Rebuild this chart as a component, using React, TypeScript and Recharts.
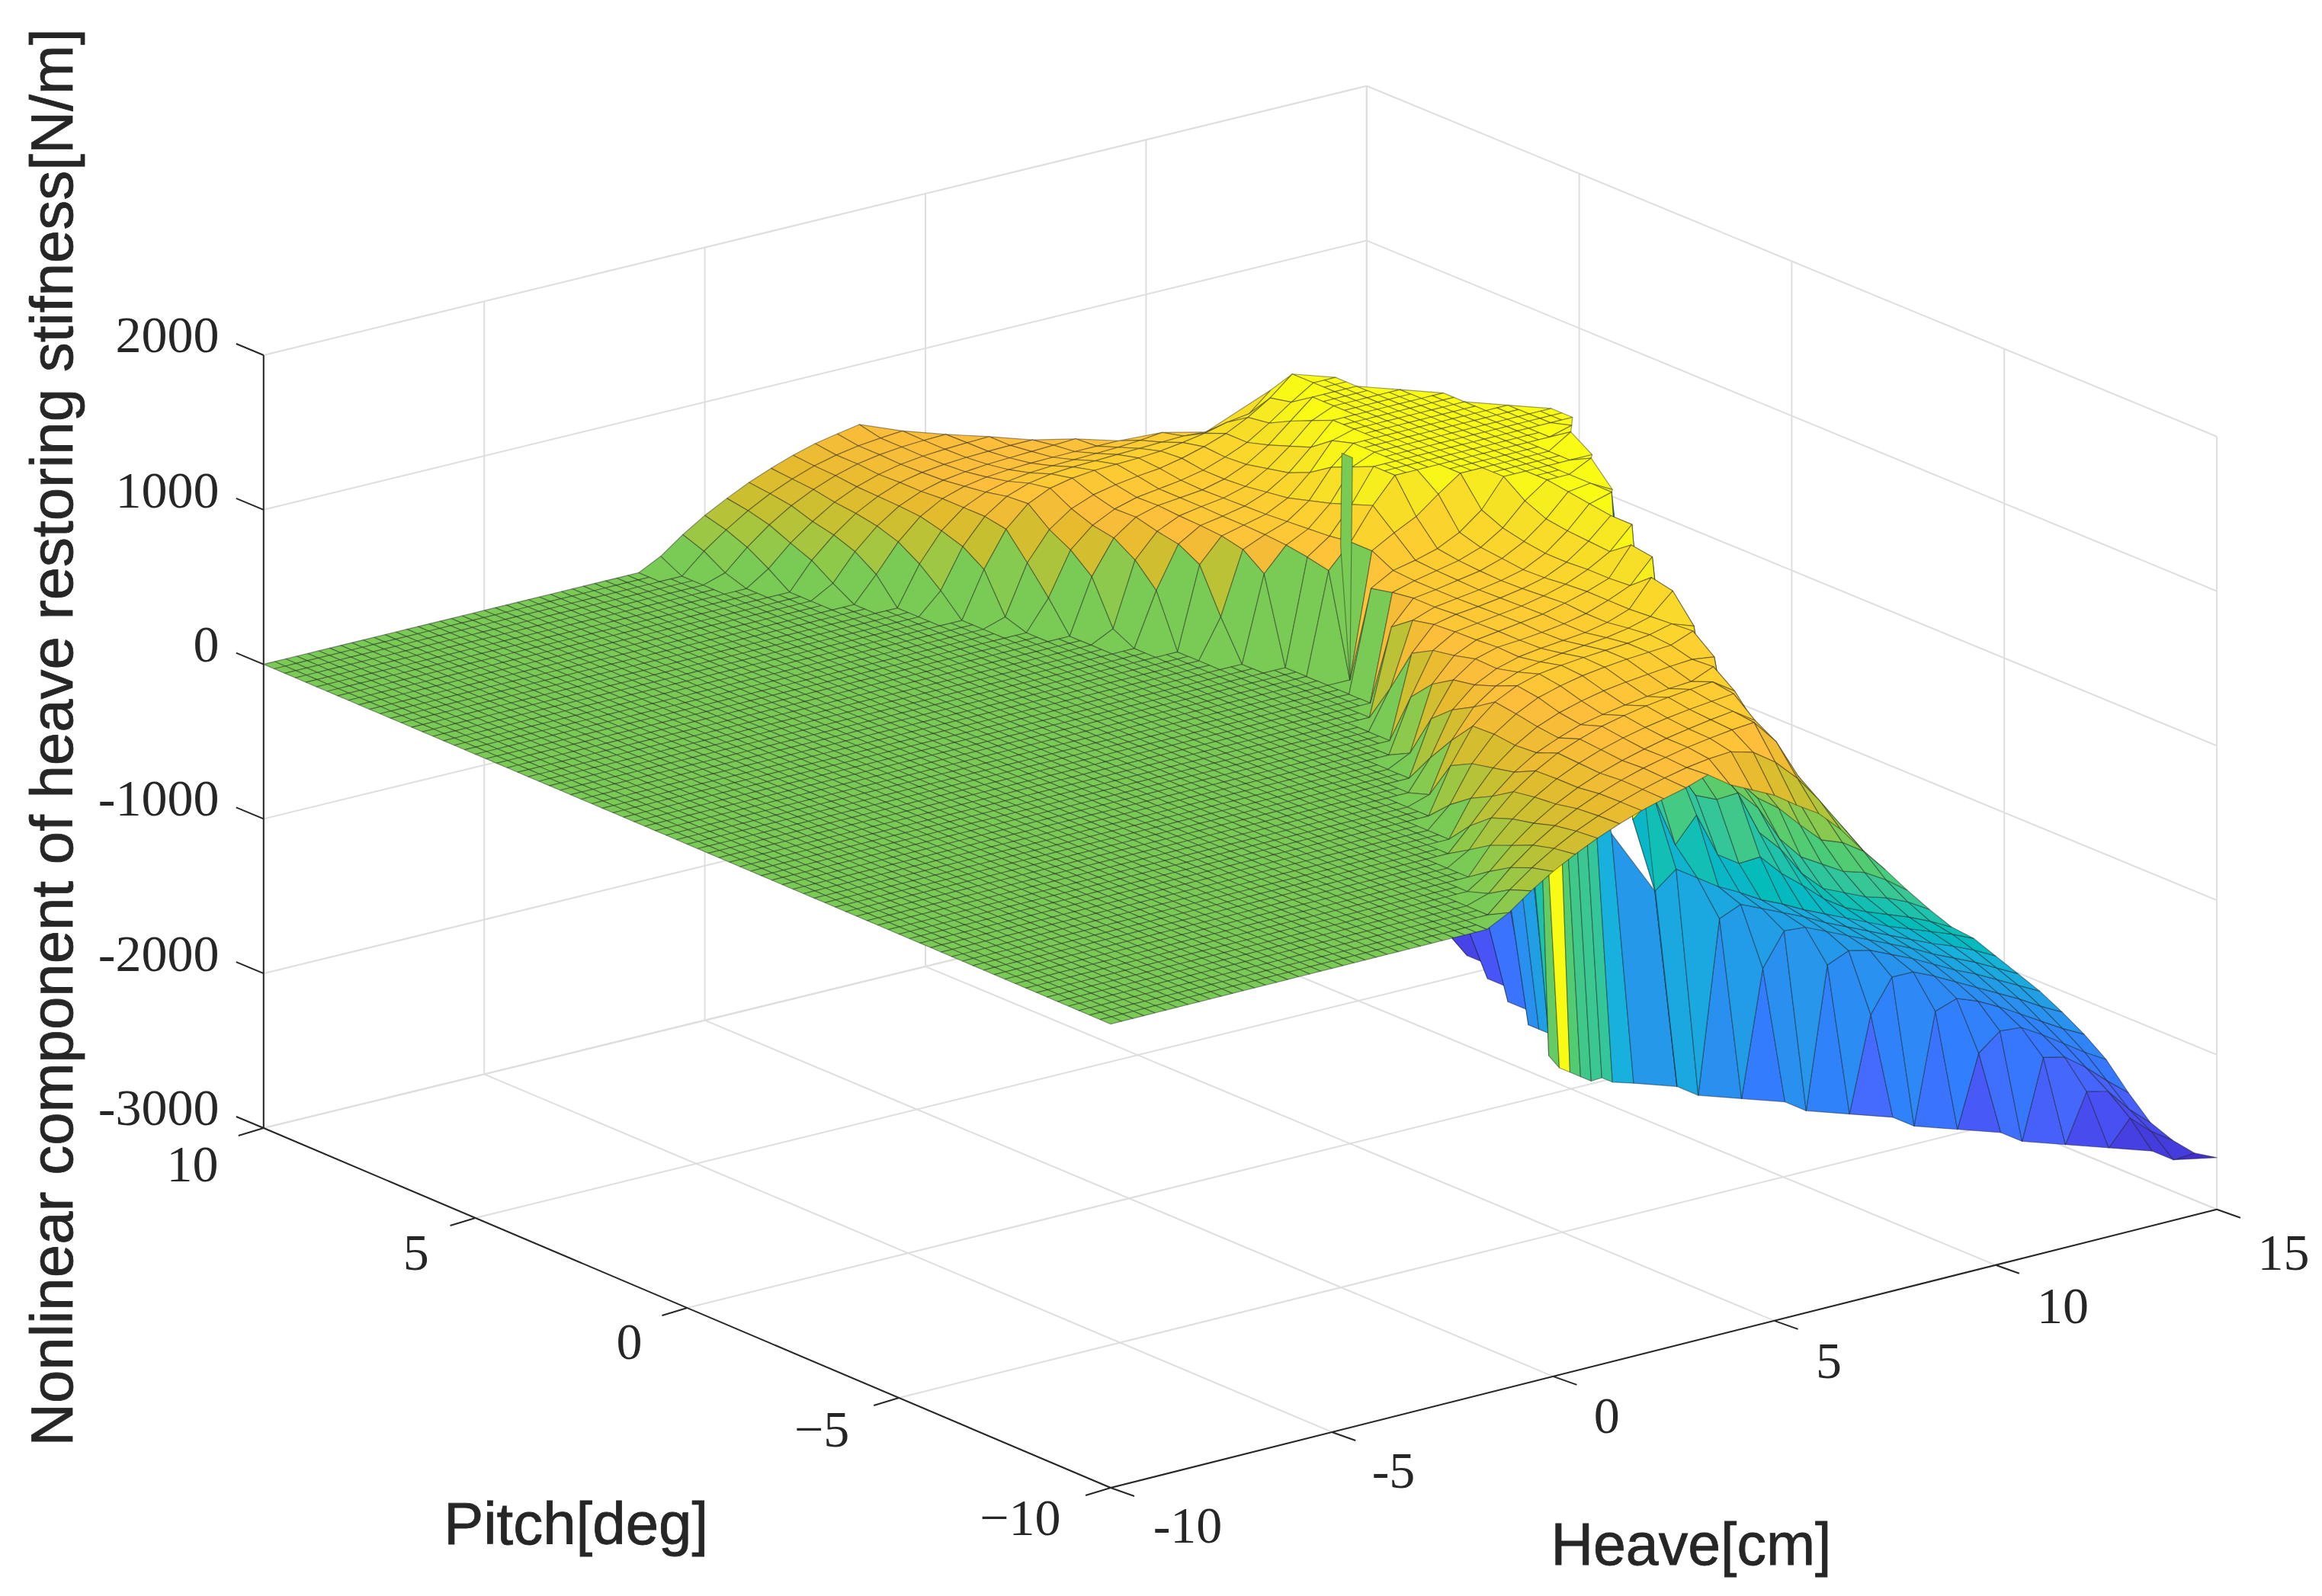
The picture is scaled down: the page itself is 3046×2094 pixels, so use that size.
import React from "react";
import { ScatterChart, Scatter, XAxis, YAxis } from "recharts";

const W = 3046;
const H = 2094;

// Axis ticks
const HEAVE_TICKS = [-10, -5, 0, 5, 10, 15];
const PITCH_TICKS = [-10, -5, 0, 5, 10];
const Z_TICKS = [-3000, -2000, -1000, 0, 1000, 2000];

// Surface grid
const HEAVE = [-10,-9.5,-9,-8.5,-8,-7.5,-7,-6.5,-6,-5.5,-5,-4.5,-4,-3.5,-3,-2.5,-2,-1.5,-1,-0.5,0,0.5,1,1.5,2,2.5,3,3.5,4,4.5,5,5.5,6,6.5,7,7.5,8,8.5,9,9.5,10,10.5,11,11.5,12,12.5,13,13.5,14,14.5,15];
const PITCH = [-10,-9.5,-9,-8.5,-8,-7.5,-7,-6.5,-6,-5.5,-5,-4.5,-4,-3.5,-3,-2.5,-2,-1.5,-1,-0.5,0,0.5,1,1.5,2,2.5,3,3.5,4,4.5,5,5.5,6,6.5,7,7.5,8,8.5,9,9.5,10];

// Heave at which each pitch column leaves the flat (z = 0) part
const COLUMN_START = [-1,-0.5,-0.5,0,0.5,0.5,1,1.5,1.5,2,2,2.5,3,3,3.5,4,4,4.5,5,5,5,5,5,4.5,4,4,3.5,3,3,2.5,2,2,1.5,1.5,1,0.5,0.5,0,-0.5,-0.5,-1];

// z read for each pitch column, in 0.5 cm heave steps from COLUMN_START; the column ends where its list ends
const Z_NEGATIVE_PITCH = [
[72,177,267,342,410,467,517,557,592,640,540,470,400,300,210,70,-100,-260,-430,-590,-740,-850,-1000,-1150,-1300,-1470,-1650,-1850,-2100,-2330,-2480,-2600,-2665],
[127,233,322,398,461,515,560,598,629,650,660,620,520,380,200,0,-200,-420,-600,-760,-880,-1020,-1170,-1320,-1490,-1670,-1860,-2080,-2300,-2480,-2700],
[45,177,286,376,450,511,562,604,638,667,689,708,720,560,300,50,-200,-430,-630,-790,-920,-1050,-1190,-1340,-1500,-1680,-1860,-2050,-2240,-2450,-2700],
[94,226,334,422,493,550,596,634,667,693,716,735,640,330,40,-240,-480,-680,-830,-960,-1090,-1220,-1360,-1520,-1690,-1860,-2040,-2300,-2700],
[170,304,409,492,557,608,649,681,706,726,742,755,520,120,-200,-490,-710,-870,-1000,-1120,-1250,-1390,-1540,-1700,-1870,-2100,-2700],
[83,254,387,486,565,620,667,700,727,746,762,775,680,60,-150,-500,-740,-900,-1030,-1150,-1270,-1410,-1560,-1720,-1950,-2700],
[145,300,420,510,570,620,650,675,695,710,720,780,20,-140,-440,-700,-900,-1060,-1180,-1300,-1430,-1580,-1760,-2150,-2700],
[230,390,500,585,640,680,710,730,745,760,770,750,-60,-300,-600,-870,-1090,-1210,-1330,-1460,-1610,-1900,-2700],
[130,360,515,610,680,720,750,770,785,795,805,860,-50,-250,-550,-850,-1120,-1240,-1360,-1490,-1700,-2700],
[290,510,630,700,740,760,775,785,795,815,850,800,-150,-350,-800,-1140,-1260,-1390,-1550,-2000,-2700],
[45,360,540,640,695,725,745,760,775,800,840,970,-200,-450,-900,-1170,-1290,-1420,-1700,-2700],
[190,465,590,660,700,720,735,750,780,830,1000,-250,-480,-900,-1180,-1320,-1500,-2700],
[350,565,665,705,715,730,750,780,830,890,1040,-300,-700,-1200,-1350,-1800,-2700],
[70,480,630,695,715,735,755,790,830,880,1060,-450,-950,-1200,-1500,-2700],
[340,605,690,710,730,750,780,820,880,960,1100,-700,-1200,-2700],
[530,680,710,725,745,770,805,870,970,1100,-900,-1400,-2700],
[250,650,700,720,740,765,800,870,980,1120,1160],
[550,700,720,745,770,815,890,1000,1140,1160,1083],
[680,720,750,780,830,920,1060,1160,1160,1230],
[650,730,760,800,870,980,1160,1160,1160,1160,1160],
];
const Z_POSITIVE_PITCH = [
[0,800,880,950,1060,1160,1160,1160,1160,1160,1250],
[650,800,1000,1160,1160,1160,1160,1160,1160,1160,1160,1200],
[680,780,950,1160,1160,1160,1160,1160,1160,1160,1160,1160,1160],
[550,700,770,900,1100,1160,1160,1160,1160,1160,1160,1160,1160,1160],
[250,650,710,760,860,1040,1160,1160,1160,1160,1160,1160,1160,1160],
[530,680,715,750,820,950,1120,1160,1160,1160,1160,1160,1160],
[340,605,690,715,745,800,890,1020,1160,1160,1160,1160,1160,1160],
[70,480,630,695,720,740,780,860,970,1100,1160,1160,1160,1160],
[350,565,665,705,720,735,770,830,920,1040,1160,1160,1160],
[190,465,590,660,700,720,740,770,820,880,970,1070,1160,1160],
[45,360,540,640,695,725,745,760,790,830,880,950,1040,1160],
[295,520,650,715,745,760,765,770,780,800,825,860,880,1000],
[135,385,545,640,690,715,725,730,735,740,745,750,740],
[250,430,545,610,645,665,675,680,685,690,700,716],
[160,335,465,545,590,615,628,635,638,640,640,640],
[80,250,380,475,535,572,592,605,612,618,624,630],
[170,300,405,480,535,565,582,592,597,600,601],
[94,225,330,420,485,530,560,578,588,595,600],
[45,175,285,375,445,500,540,565,580,588,592],
[127,230,320,395,455,505,540,565,580,592],
[72,177,267,342,410,467,517,557,585,611],
];

// The long strips that hang below the plateau, seen under the front edge
const STRIP_PITCH = [-2.5,-2,-1.5,-1.25,-1,-0.75,-0.5,-0.25,0,0.25,0.5,0.75,1,1.5,2,2.5,3,3.5,4,4.5,5];
const STRIP_TOP_HEAVE = [9.5,9,9,9,9,9,9,9,9.25,9.25,9.5,9.5,9.5,10,10,10.5,10.5,11,11,11.5,11.5];
const STRIP_TOP_Z = [-1400,-1050,-450,-400,-350,-200,1160,-100,-600,-1100,-1300,-1500,-1700,-1900,-2100,-2200,-2300,-2400,-2500,-2600,-2650];
const STRIP_BOTTOM_HEAVE = [10,9.5,9.5,9.5,9.5,9.5,9.5,9.5,9.5,9.75,10,10,10,10.5,10.5,11,11,11.5,11.5,12,12];
const STRIP_BOTTOM_Z = [-2700,-2700,-2750,-2750,-2800,-2800,-2800,-2800,-2750,-2700,-2700,-2700,-2700,-2700,-2700,-2700,-2700,-2700,-2700,-2700,-2700];

// The narrow green spike at zero pitch: heave, pitch, z of its corners
const SPIKE_HEAVE = [5, 6.5, 6.5, 5.75];
const SPIKE_PITCH = [0, 1.5, 1.75, 1];
const SPIKE_Z = [0, 1160, 1160, 700];

const PARULA = [
[62,38,168],[66,46,203],[71,66,229],[72,82,245],[70,105,253],[50,123,254],[46,135,247],[39,150,235],[28,165,224],[24,177,219],[1,187,188],[25,193,175],[55,198,150],[74,204,120],[114,204,90],[157,199,67],[197,192,49],[230,187,45],[253,190,60],[252,207,48],[246,227,36],[249,251,21],
];
function parula(t: number) {
  const c = Math.min(1, Math.max(0, t)) * (PARULA.length - 1);
  const i = Math.min(PARULA.length - 2, Math.floor(c));
  const f = c - i;
  const m = [0, 1, 2].map((k) => Math.round(PARULA[i][k] + (PARULA[i + 1][k] - PARULA[i][k]) * f));
  return `rgb(${m[0]},${m[1]},${m[2]})`;
}
const colorOf = (z: number) => parula(z >= 0 ? 0.675 + z * 0.0003 : 0.675 + z * 0.00024);

// View of the 3D box, with the slight perspective of the far corner
const project = (h: number, p: number, z: number) => {
  const a = h + 10, b = p + 10;
  const far = (a / 25) * (b / 20);
  return {
    x: 1457 + a * 58.04 - b * 55.56 - 4 * far,
    y: 1952 - a * 14.61 - b * 23.6 - (z + 3000) * 0.2028 + 12 * far,
  };
};
const depth = (h: number, p: number, z: number) => 21.6 * (h + 10) + 35.3 * (p + 10) - 0.0364 * z;

const allColumns = [...Z_NEGATIVE_PITCH, ...Z_POSITIVE_PITCH];
function zAt(i: number, j: number): number | null {
  const h = HEAVE[i];
  const start = COLUMN_START[j];
  if (h < start) return 0;
  const k = Math.round((h - start) * 2);
  const v = allColumns[j][k];
  return v === undefined ? null : v;
}
const lastIndex = (j: number) => {
  let i = HEAVE.length - 1;
  while (i > 0 && zAt(i, j) === null) i--;
  return i;
};

type Cell = { x: number; y: number; pts: number[][]; fill: string; d: number };
function makeCell(nodes: number[][], colorZ: number): Cell {
  const pr = nodes.map((n) => project(n[0], n[1], n[2]));
  const m = nodes.length;
  const x = pr.reduce((s, q) => s + q.x, 0) / m;
  const y = pr.reduce((s, q) => s + q.y, 0) / m;
  const c = nodes.reduce((s, n) => [s[0] + n[0] / m, s[1] + n[1] / m, s[2] + n[2] / m], [0, 0, 0]);
  return { x, y, pts: pr.map((q) => [q.x - x, q.y - y]), fill: colorOf(colorZ), d: depth(c[0], c[1], c[2]) };
}

const surfaceCells: Cell[] = [];
for (let i = 0; i < HEAVE.length - 1; i++) {
  for (let j = 0; j < PITCH.length - 1; j++) {
    const a = zAt(i, j), b = zAt(i + 1, j), c = zAt(i + 1, j + 1), e = zAt(i, j + 1);
    if (a === null || b === null || c === null || e === null) continue;
    const h0 = HEAVE[i], h1 = HEAVE[i + 1], p0 = PITCH[j], p1 = PITCH[j + 1];
    if (a === b && b === c && c === e) {
      // A level cell keeps its level over the finer 0.25 mesh of the reference
      const hm = (h0 + h1) / 2, pm = (p0 + p1) / 2;
      [[h0, hm, p0, pm], [hm, h1, p0, pm], [hm, h1, pm, p1], [h0, hm, pm, p1]].forEach((q) => {
        surfaceCells.push(makeCell([[q[0], q[2], a], [q[1], q[2], a], [q[1], q[3], a], [q[0], q[3], a]], a));
      });
    } else {
      surfaceCells.push(makeCell([[h0, p0, a], [h1, p0, b], [h1, p1, c], [h0, p1, e]], a));
    }
  }
}
// Where neighbouring columns end at different heaves, close the edge with triangles
for (let j = 0; j < PITCH.length - 1; j++) {
  const ea = lastIndex(j), eb = lastIndex(j + 1);
  if (ea > eb) {
    const zb = zAt(eb, j + 1) as number;
    for (let i = eb; i < ea; i++) {
      const z0 = zAt(i, j) as number, z1 = zAt(i + 1, j) as number;
      surfaceCells.push(makeCell([[HEAVE[i], PITCH[j], z0], [HEAVE[i + 1], PITCH[j], z1], [HEAVE[eb], PITCH[j + 1], zb]], z0));
    }
  } else if (eb > ea) {
    const za = zAt(ea, j) as number;
    for (let i = ea; i < eb; i++) {
      const z0 = zAt(i, j + 1) as number, z1 = zAt(i + 1, j + 1) as number;
      surfaceCells.push(makeCell([[HEAVE[ea], PITCH[j], za], [HEAVE[i + 1], PITCH[j + 1], z1], [HEAVE[i], PITCH[j + 1], z0]], za));
    }
  }
}
surfaceCells.sort((u, v) => v.d - u.d);
const stripCells: Cell[] = [];
for (let j = STRIP_PITCH.length - 2; j >= 0; j--) {
  stripCells.push(makeCell([
    [STRIP_TOP_HEAVE[j], STRIP_PITCH[j], STRIP_TOP_Z[j]],
    [STRIP_BOTTOM_HEAVE[j], STRIP_PITCH[j], STRIP_BOTTOM_Z[j]],
    [STRIP_BOTTOM_HEAVE[j + 1], STRIP_PITCH[j + 1], STRIP_BOTTOM_Z[j + 1]],
    [STRIP_TOP_HEAVE[j + 1], STRIP_PITCH[j + 1], STRIP_TOP_Z[j + 1]],
  ], STRIP_TOP_Z[j]));
}
const spikeCell = makeCell(SPIKE_HEAVE.map((h, i) => [h, SPIKE_PITCH[i], SPIKE_Z[i]]), 0);
const cells = [...stripCells, ...surfaceCells, spikeCell];

// Box lines
type Seg = { x: number; y: number; dx: number; dy: number; color: string; width: number };
function seg(a: { x: number; y: number }, b: { x: number; y: number }, color: string, width: number): Seg {
  const x = (a.x + b.x) / 2, y = (a.y + b.y) / 2;
  return { x, y, dx: (b.x - a.x) / 2, dy: (b.y - a.y) / 2, color, width };
}
const GRID = "#dedede";
const gridSegs: Seg[] = [];
HEAVE_TICKS.forEach((h) => {
  gridSegs.push(seg(project(h, 10, -3000), project(h, 10, 2000), GRID, 2));
  gridSegs.push(seg(project(h, -10, -3000), project(h, 10, -3000), GRID, 2));
});
PITCH_TICKS.forEach((p) => {
  gridSegs.push(seg(project(15, p, -3000), project(15, p, 2000), GRID, 2));
  gridSegs.push(seg(project(-10, p, -3000), project(15, p, -3000), GRID, 2));
});
Z_TICKS.forEach((z) => {
  gridSegs.push(seg(project(-10, 10, z), project(15, 10, z), GRID, 2));
  gridSegs.push(seg(project(15, 10, z), project(15, -10, z), GRID, 2));
});

const AXIS = "#262626";
const axisSegs: Seg[] = [
  seg(project(-10, 10, -3000), project(-10, 10, 2000), AXIS, 2),
  seg(project(-10, 10, -3000), project(-10, -10, -3000), AXIS, 2),
  seg(project(-10, -10, -3000), project(15, -10, -3000), AXIS, 2),
];
Z_TICKS.forEach((z) => {
  const a = project(-10, 10, z);
  axisSegs.push(seg(a, { x: a.x - 36, y: a.y - 15 }, AXIS, 2));
});
PITCH_TICKS.forEach((p) => {
  const a = project(-10, p, -3000);
  axisSegs.push(seg(a, { x: a.x - 33, y: a.y + 10 }, AXIS, 2));
});
HEAVE_TICKS.forEach((h) => {
  const a = project(h, -10, -3000);
  axisSegs.push(seg(a, { x: a.x + 31, y: a.y + 11 }, AXIS, 2));
});

// Texts (scale factor from the 1568-wide view)
const k = 3046 / 1568;
type Txt = { x: number; y: number; text: string; anchor: string; font: string; size: number; rotate?: number; heavy?: boolean };
const SERIF = "'Liberation Serif', serif";
const SANS = "'Liberation Sans', sans-serif";
const Z_LABELS = ["2000", "1000", "0", "-1000", "-2000", "-3000"];
const Z_LABEL_Y = [226, 331, 435, 539, 644, 748];
const PITCH_LABELS = ["10", "5", "0", "\u22125", "\u221210"];
const PITCH_LABEL_X = [130, 281, 425, 555, 689];
const PITCH_LABEL_Y = [786, 846, 906, 965, 1025];
const HEAVE_LABELS = ["-10", "-5", "0", "5", "10", "15"];
const HEAVE_LABEL_X = [802, 941, 1085, 1235, 1393, 1542];
const HEAVE_LABEL_Y = [1030, 993, 956, 919, 882, 846];
const texts: Txt[] = [
  ...Z_LABELS.map((t, i) => ({ x: 148 * k, y: Z_LABEL_Y[i] * k, text: t, anchor: "end", font: SERIF, size: 68 })),
  ...PITCH_LABELS.map((t, i) => ({ x: PITCH_LABEL_X[i] * k, y: PITCH_LABEL_Y[i] * k, text: t, anchor: "middle", font: SERIF, size: 68 })),
  ...HEAVE_LABELS.map((t, i) => ({ x: HEAVE_LABEL_X[i] * k, y: HEAVE_LABEL_Y[i] * k, text: t, anchor: "middle", font: SERIF, size: 68 })),
  { x: 389 * k, y: 1029 * k, text: "Pitch[deg]", anchor: "middle", font: SANS, size: 78, heavy: true },
  { x: 1142 * k, y: 1043 * k, text: "Heave[cm]", anchor: "middle", font: SANS, size: 77, heavy: true },
  { x: 35 * k, y: 498 * k, text: "Nonlinear component of heave restoring stifness[N/m]", anchor: "middle", font: SANS, size: 78, rotate: -90, heavy: true },
];

const CellShape = (props: any) => {
  const { cx, cy, payload } = props;
  const points = payload.pts.map((q: number[]) => `${cx + q[0]},${cy + q[1]}`).join(" ");
  return <polygon points={points} fill={payload.fill} stroke="rgba(20,20,20,0.42)" strokeWidth={1.2} strokeLinejoin="round" />;
};
const SegShape = (props: any) => {
  const { cx, cy, payload } = props;
  return <line x1={cx - payload.dx} y1={cy - payload.dy} x2={cx + payload.dx} y2={cy + payload.dy} stroke={payload.color} strokeWidth={payload.width} />;
};
const TextShape = (props: any) => {
  const { cx, cy, payload } = props;
  return (
    <text
      x={cx}
      y={cy}
      textAnchor={payload.anchor}
      dominantBaseline="central"
      fontFamily={payload.font}
      fontSize={payload.size}
      fill="#262626"
      stroke={payload.heavy ? "#262626" : "none"}
      strokeWidth={payload.heavy ? 0.8 : 0}
      transform={payload.rotate ? `rotate(${payload.rotate} ${cx} ${cy})` : undefined}
    >
      {payload.text}
    </text>
  );
};

export default function App() {
  return (
    <div style={{ position: "absolute", left: 0, top: 0, width: W, height: H, background: "#fff" }}>
      <ScatterChart width={W} height={H} margin={{ top: 0, right: 0, bottom: 0, left: 0 }}>
        <XAxis type="number" dataKey="x" domain={[0, W]} hide allowDataOverflow />
        <YAxis type="number" dataKey="y" domain={[0, H]} reversed hide allowDataOverflow />
        <Scatter data={gridSegs} shape={SegShape} isAnimationActive={false} />
        <Scatter data={axisSegs} shape={SegShape} isAnimationActive={false} />
        <Scatter data={cells} shape={CellShape} isAnimationActive={false} />
        <Scatter data={texts} shape={TextShape} isAnimationActive={false} />
      </ScatterChart>
    </div>
  );
}
